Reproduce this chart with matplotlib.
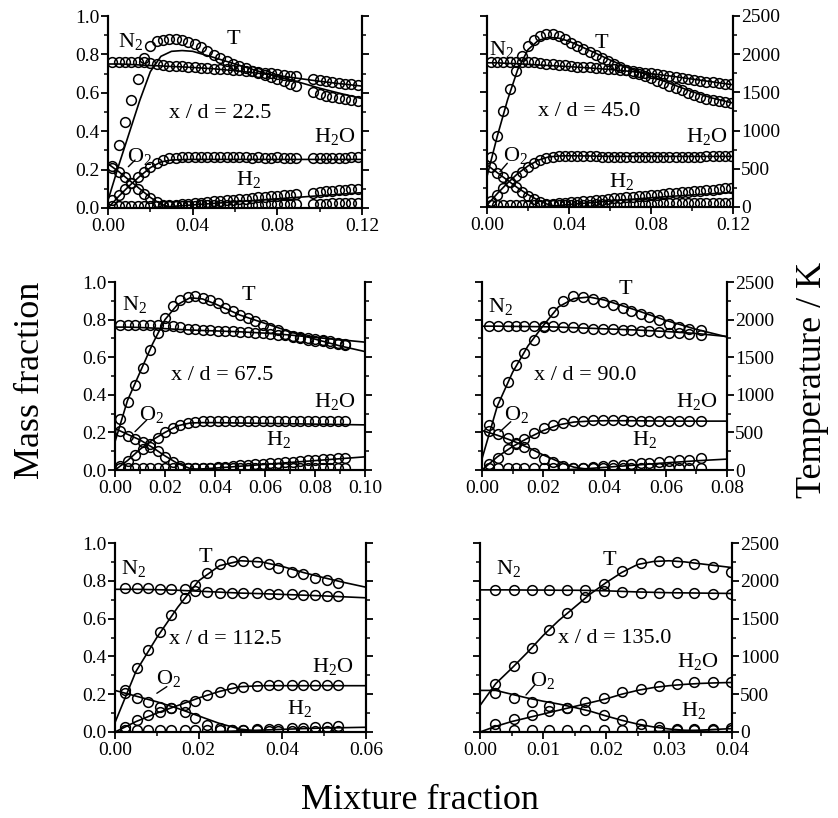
import matplotlib
matplotlib.use('Agg')
import matplotlib.pyplot as plt
from matplotlib.ticker import MultipleLocator, FormatStrFormatter

plt.rcParams['font.family'] = 'Liberation Serif'
plt.rcParams['mathtext.fontset'] = 'custom'
plt.rcParams['mathtext.rm'] = 'Liberation Serif'
plt.rcParams['mathtext.it'] = 'Liberation Serif:italic'

# ---- x/d = 22.5 ----
z1 = [0.002, 0.005, 0.008, 0.011, 0.014, 0.017, 0.020, 0.023, 0.026, 0.029,
      0.032, 0.035, 0.038, 0.041, 0.044, 0.047, 0.050, 0.053, 0.056, 0.059,
      0.062, 0.065, 0.068, 0.071, 0.074, 0.077, 0.080, 0.083, 0.086, 0.089,
      0.097, 0.100, 0.103, 0.106, 0.109, 0.112, 0.115, 0.118]
T1 = [525, 825, 1125, 1400, 1675, 1950, 2110, 2170, 2190, 2200,
      2200, 2190, 2165, 2130, 2090, 2040, 1990, 1950, 1915, 1880,
      1850, 1820, 1790, 1760, 1735, 1710, 1680, 1650, 1620, 1590,
      1510, 1480, 1460, 1445, 1430, 1415, 1400, 1390]
N2_1 = [0.760, 0.762, 0.760, 0.758, 0.760, 0.758, 0.755, 0.750, 0.745, 0.742,
        0.740, 0.738, 0.735, 0.733, 0.730, 0.728, 0.726, 0.724, 0.722, 0.720,
        0.717, 0.714, 0.711, 0.708, 0.705, 0.702, 0.698, 0.694, 0.690, 0.686,
        0.672, 0.667, 0.662, 0.657, 0.652, 0.648, 0.645, 0.643]
O2_1 = [0.220, 0.190, 0.160, 0.130, 0.100, 0.075, 0.050, 0.030, 0.015, 0.010,
        0.012, 0.012, 0.013, 0.013, 0.014, 0.014, 0.015, 0.015, 0.016, 0.016,
        0.017, 0.017, 0.018, 0.018, 0.019, 0.019, 0.020, 0.020, 0.021, 0.021,
        0.022, 0.023, 0.023, 0.024, 0.024, 0.025, 0.025, 0.025]
H2O_1 = [0.040, 0.070, 0.100, 0.130, 0.160, 0.190, 0.215, 0.235, 0.250, 0.258,
         0.262, 0.264, 0.265, 0.266, 0.266, 0.265, 0.266, 0.265, 0.264, 0.265,
         0.264, 0.264, 0.263, 0.264, 0.263, 0.263, 0.264, 0.263, 0.262, 0.263,
         0.262, 0.262, 0.263, 0.262, 0.262, 0.263, 0.264, 0.265]
H2_1 = [0.010, 0.010, 0.010, 0.010, 0.010, 0.010, 0.010, 0.011, 0.012, 0.015,
        0.018, 0.020, 0.022, 0.025, 0.028, 0.031, 0.034, 0.037, 0.040, 0.043,
        0.046, 0.049, 0.052, 0.055, 0.058, 0.061, 0.064, 0.067, 0.070, 0.073,
        0.080, 0.083, 0.086, 0.089, 0.092, 0.095, 0.098, 0.100]
zl1 = [0, 0.005, 0.01, 0.015, 0.02, 0.025, 0.03, 0.035, 0.04, 0.05, 0.06, 0.07, 0.08, 0.09, 0.10, 0.11, 0.12]
T1_line = [100, 550, 975, 1400, 1775, 1975, 2040, 2050, 2040, 1960, 1875, 1790, 1710, 1640, 1560, 1490, 1425]
N2_1_line = [0.750, 0.750, 0.748, 0.745, 0.742, 0.740, 0.737, 0.735, 0.732, 0.725, 0.715, 0.703, 0.690, 0.675, 0.660, 0.647, 0.635]
O2_1_line = [0.230, 0.190, 0.145, 0.100, 0.055, 0.020, 0.002, 0, 0, 0, 0, 0, 0, 0, 0, 0, 0]
H2O_1_line = [0.000, 0.060, 0.115, 0.165, 0.210, 0.240, 0.250, 0.252, 0.253, 0.253, 0.253, 0.253, 0.253, 0.253, 0.253, 0.253, 0.253]
H2_1_line = [0, 0, 0, 0, 0, 0.003, 0.008, 0.012, 0.016, 0.024, 0.032, 0.040, 0.048, 0.056, 0.064, 0.072, 0.080]

# ---- x/d = 45.0 ----
z2 = [0.002, 0.005, 0.008, 0.011, 0.014, 0.017, 0.020, 0.023, 0.026, 0.029,
      0.032, 0.035, 0.038, 0.041, 0.044, 0.047, 0.050, 0.053, 0.056, 0.059,
      0.062, 0.065, 0.068, 0.071, 0.074, 0.077, 0.080, 0.083, 0.086, 0.089,
      0.092, 0.095, 0.098, 0.101, 0.104, 0.107, 0.110, 0.113, 0.116, 0.119]
T2 = [650, 925, 1250, 1550, 1775, 1975, 2110, 2190, 2240, 2265,
      2260, 2240, 2200, 2150, 2110, 2070, 2030, 1990, 1950, 1910,
      1870, 1830, 1790, 1760, 1735, 1710, 1685, 1655, 1625, 1590,
      1555, 1525, 1495, 1460, 1440, 1420, 1400, 1385, 1370, 1360]
N2_2 = [0.760, 0.761, 0.760, 0.759, 0.760, 0.759, 0.758, 0.757, 0.754, 0.750,
        0.747, 0.744, 0.741, 0.738, 0.735, 0.733, 0.731, 0.729, 0.727, 0.724,
        0.721, 0.718, 0.715, 0.711, 0.707, 0.703, 0.699, 0.695, 0.690, 0.685,
        0.680, 0.676, 0.672, 0.667, 0.662, 0.657, 0.652, 0.648, 0.646, 0.645]
O2_2 = [0.210, 0.180, 0.155, 0.130, 0.105, 0.080, 0.060, 0.040, 0.025, 0.015,
        0.010, 0.011, 0.011, 0.012, 0.012, 0.013, 0.013, 0.014, 0.014, 0.015,
        0.015, 0.016, 0.016, 0.017, 0.017, 0.018, 0.018, 0.019, 0.019, 0.020,
        0.020, 0.020, 0.021, 0.021, 0.021, 0.022, 0.022, 0.022, 0.022, 0.022]
H2O_2 = [0.030, 0.065, 0.100, 0.130, 0.160, 0.185, 0.210, 0.230, 0.245, 0.256,
         0.263, 0.267, 0.268, 0.268, 0.267, 0.266, 0.265, 0.265, 0.264, 0.263,
         0.262, 0.262, 0.261, 0.262, 0.262, 0.261, 0.262, 0.262, 0.262, 0.263,
         0.263, 0.263, 0.264, 0.264, 0.264, 0.265, 0.266, 0.267, 0.268, 0.268]
H2_2 = [0.010, 0.010, 0.010, 0.010, 0.010, 0.010, 0.010, 0.010, 0.011, 0.013,
        0.016, 0.019, 0.022, 0.025, 0.028, 0.031, 0.034, 0.036, 0.039, 0.042,
        0.045, 0.048, 0.050, 0.053, 0.056, 0.059, 0.062, 0.065, 0.068, 0.071,
        0.074, 0.077, 0.080, 0.083, 0.086, 0.089, 0.091, 0.094, 0.097, 0.099]
zl2 = [0, 0.005, 0.01, 0.015, 0.02, 0.025, 0.03, 0.035, 0.04, 0.05, 0.06, 0.07, 0.08, 0.09, 0.10, 0.11, 0.12]
T2_line = [400, 925, 1400, 1800, 2060, 2180, 2220, 2210, 2170, 2050, 1925, 1810, 1710, 1610, 1510, 1425, 1360]
N2_2_line = [0.755, 0.755, 0.752, 0.750, 0.747, 0.744, 0.741, 0.738, 0.735, 0.728, 0.720, 0.710, 0.698, 0.685, 0.670, 0.655, 0.640]
O2_2_line = [0.220, 0.180, 0.140, 0.100, 0.065, 0.035, 0.012, 0.002, 0, 0, 0, 0, 0, 0, 0, 0, 0]
H2O_2_line = [0.010, 0.070, 0.125, 0.175, 0.215, 0.245, 0.262, 0.267, 0.268, 0.267, 0.265, 0.265, 0.265, 0.265, 0.265, 0.265, 0.265]
H2_2_line = [0, 0, 0, 0, 0, 0, 0.003, 0.008, 0.013, 0.022, 0.031, 0.040, 0.048, 0.056, 0.063, 0.070, 0.077]

# ---- x/d = 67.5 ----
z3 = [0.002, 0.005, 0.008, 0.011, 0.014, 0.017, 0.020, 0.023, 0.026, 0.029,
      0.032, 0.035, 0.038, 0.041, 0.044, 0.047, 0.050, 0.053, 0.056, 0.059,
      0.062, 0.065, 0.068, 0.071, 0.074, 0.077, 0.080, 0.083, 0.086, 0.089, 0.092]
T3 = [675, 900, 1125, 1350, 1600, 1825, 2025, 2175, 2260, 2300,
      2310, 2290, 2265, 2215, 2155, 2110, 2060, 2015, 1975, 1930,
      1890, 1860, 1810, 1775, 1750, 1725, 1720, 1710, 1695, 1680, 1665]
N2_3 = [0.770, 0.771, 0.770, 0.769, 0.770, 0.769, 0.768, 0.765, 0.758, 0.752,
        0.748, 0.745, 0.743, 0.741, 0.739, 0.737, 0.736, 0.733, 0.730, 0.727,
        0.724, 0.720, 0.716, 0.712, 0.707, 0.702, 0.697, 0.690, 0.684, 0.678, 0.672]
O2_3 = [0.205, 0.180, 0.165, 0.150, 0.125, 0.100, 0.070, 0.040, 0.020, 0.010,
        0.008, 0.008, 0.008, 0.009, 0.009, 0.009, 0.010, 0.010, 0.010, 0.010,
        0.011, 0.011, 0.011, 0.011, 0.012, 0.012, 0.012, 0.012, 0.012, 0.013, 0.013]
H2O_3 = [0.020, 0.050, 0.080, 0.110, 0.140, 0.170, 0.200, 0.225, 0.240, 0.250,
         0.255, 0.258, 0.260, 0.261, 0.262, 0.262, 0.261, 0.262, 0.262, 0.261,
         0.261, 0.262, 0.262, 0.261, 0.260, 0.260, 0.260, 0.259, 0.259, 0.258, 0.258]
H2_3 = [0.008, 0.008, 0.008, 0.008, 0.008, 0.008, 0.008, 0.008, 0.008, 0.008,
        0.009, 0.011, 0.013, 0.016, 0.018, 0.021, 0.024, 0.027, 0.030, 0.033,
        0.036, 0.039, 0.042, 0.045, 0.048, 0.051, 0.054, 0.057, 0.060, 0.063, 0.066]
zl3 = [0, 0.005, 0.01, 0.015, 0.02, 0.025, 0.03, 0.035, 0.04, 0.05, 0.06, 0.07, 0.08, 0.09, 0.10]
T3_line = [375, 925, 1300, 1675, 2000, 2200, 2290, 2275, 2210, 2060, 1950, 1840, 1740, 1650, 1575]
N2_3_line = [0.760, 0.760, 0.758, 0.755, 0.752, 0.748, 0.745, 0.742, 0.740, 0.735, 0.728, 0.718, 0.705, 0.693, 0.680]
O2_3_line = [0.220, 0.190, 0.160, 0.120, 0.075, 0.035, 0.008, 0, 0, 0, 0, 0, 0, 0, 0]
H2O_3_line = [0.000, 0.050, 0.110, 0.160, 0.200, 0.235, 0.250, 0.252, 0.252, 0.250, 0.248, 0.246, 0.244, 0.242, 0.240]
H2_3_line = [0, 0, 0, 0, 0, 0, 0.002, 0.006, 0.010, 0.020, 0.030, 0.040, 0.050, 0.060, 0.070]

# ---- x/d = 90.0 ----
z4 = [0.0024, 0.0051, 0.0084, 0.0111, 0.0138, 0.0171, 0.0204, 0.0231, 0.0263, 0.0296,
      0.0329, 0.0361, 0.0394, 0.0427, 0.0460, 0.0487, 0.0520, 0.0546, 0.0579, 0.0612,
      0.0644, 0.0677, 0.0715]
T4 = [600, 910, 1175, 1400, 1550, 1725, 1900, 2100, 2250, 2320,
      2300, 2280, 2240, 2195, 2150, 2115, 2070, 2040, 1995, 1940,
      1905, 1875, 1860]
N2_4 = [0.768, 0.768, 0.767, 0.768, 0.768, 0.767, 0.768, 0.766, 0.762, 0.758,
        0.755, 0.752, 0.750, 0.748, 0.746, 0.744, 0.741, 0.738, 0.735, 0.731,
        0.727, 0.724, 0.720]
O2_4 = [0.205, 0.190, 0.170, 0.145, 0.120, 0.090, 0.060, 0.040, 0.020, 0.010,
        0.009, 0.009, 0.010, 0.010, 0.010, 0.011, 0.011, 0.011, 0.012, 0.012,
        0.012, 0.012, 0.013]
H2O_4 = [0.030, 0.065, 0.110, 0.140, 0.165, 0.195, 0.222, 0.240, 0.250, 0.258,
         0.262, 0.265, 0.266, 0.265, 0.264, 0.263, 0.262, 0.262, 0.261, 0.260,
         0.260, 0.259, 0.258]
H2_4 = [0.008, 0.008, 0.008, 0.008, 0.008, 0.008, 0.008, 0.008, 0.009, 0.010,
        0.012, 0.016, 0.020, 0.024, 0.028, 0.031, 0.035, 0.038, 0.042, 0.047,
        0.051, 0.055, 0.062]
zl4 = [0, 0.005, 0.01, 0.015, 0.02, 0.025, 0.03, 0.035, 0.04, 0.05, 0.06, 0.07, 0.08]
T4_line = [150, 850, 1300, 1650, 1920, 2170, 2280, 2300, 2260, 2130, 1990, 1870, 1770]
N2_4_line = [0.765, 0.765, 0.764, 0.763, 0.762, 0.760, 0.757, 0.754, 0.751, 0.745, 0.737, 0.726, 0.710]
O2_4_line = [0.210, 0.185, 0.155, 0.120, 0.080, 0.045, 0.015, 0.003, 0, 0, 0, 0, 0]
H2O_4_line = [0.000, 0.070, 0.125, 0.170, 0.210, 0.240, 0.255, 0.260, 0.262, 0.262, 0.260, 0.260, 0.260]
H2_4_line = [0, 0, 0, 0, 0, 0, 0.003, 0.008, 0.014, 0.026, 0.038, 0.049, 0.058]

# ---- x/d = 112.5 ----
z5 = [0.0024, 0.0053, 0.0080, 0.0108, 0.0135, 0.0167, 0.0191, 0.0219, 0.0251, 0.0279,
      0.0307, 0.0339, 0.0367, 0.0390, 0.0422, 0.0450, 0.0478, 0.0506, 0.0534]
T5 = [555, 840, 1085, 1325, 1550, 1770, 1945, 2100, 2220, 2260,
      2260, 2250, 2220, 2165, 2120, 2085, 2040, 2010, 1970]
N2_5 = [0.760, 0.762, 0.760, 0.758, 0.757, 0.755, 0.748, 0.742, 0.738, 0.736,
        0.735, 0.733, 0.732, 0.730, 0.729, 0.727, 0.725, 0.722, 0.720]
O2_5 = [0.205, 0.178, 0.160, 0.134, 0.125, 0.108, 0.076, 0.037, 0.019, 0.012,
        0.010, 0.008, 0.007, 0.007, 0.006, 0.006, 0.006, 0.006, 0.006]
H2O_5 = [0.028, 0.063, 0.090, 0.108, 0.125, 0.143, 0.164, 0.196, 0.213, 0.235,
         0.240, 0.245, 0.247, 0.248, 0.248, 0.248, 0.247, 0.247, 0.247]
H2_5 = [0.008, 0.008, 0.008, 0.008, 0.008, 0.008, 0.008, 0.008, 0.008, 0.010,
        0.012, 0.014, 0.016, 0.018, 0.020, 0.023, 0.026, 0.029, 0.032]
zl5 = [0, 0.005, 0.01, 0.015, 0.02, 0.025, 0.03, 0.035, 0.04, 0.045, 0.05, 0.055, 0.06]
T5_line = [125, 800, 1250, 1650, 2000, 2200, 2265, 2250, 2190, 2110, 2040, 1975, 1915]
N2_5_line = [0.755, 0.755, 0.753, 0.750, 0.745, 0.740, 0.735, 0.732, 0.728, 0.724, 0.720, 0.715, 0.710]
O2_5_line = [0.220, 0.190, 0.160, 0.125, 0.085, 0.045, 0.015, 0.003, 0, 0, 0, 0, 0]
H2O_5_line = [0.000, 0.055, 0.100, 0.140, 0.180, 0.215, 0.240, 0.245, 0.245, 0.245, 0.245, 0.245, 0.245]
H2_5_line = [0, 0, 0, 0, 0, 0.002, 0.006, 0.010, 0.014, 0.018, 0.021, 0.023, 0.025]

# ---- x/d = 135.0 ----
z6 = [0.0024, 0.0054, 0.0083, 0.0110, 0.0138, 0.0167, 0.0197, 0.0225, 0.0255, 0.0284,
      0.0312, 0.0340, 0.0370, 0.0398]
T6 = [630, 870, 1115, 1350, 1570, 1780, 1955, 2125, 2240, 2265, 2255, 2225, 2180, 2110]
N2_6 = [0.752, 0.752, 0.752, 0.750, 0.750, 0.749, 0.745, 0.740, 0.738, 0.735, 0.735, 0.733, 0.732, 0.730]
O2_6 = [0.205, 0.180, 0.160, 0.140, 0.127, 0.115, 0.090, 0.065, 0.040, 0.025, 0.015, 0.012, 0.010, 0.010]
H2O_6 = [0.040, 0.067, 0.090, 0.110, 0.129, 0.160, 0.178, 0.210, 0.230, 0.245, 0.254, 0.262, 0.265, 0.263]
H2_6 = [0.008, 0.008, 0.008, 0.008, 0.008, 0.008, 0.008, 0.008, 0.009, 0.010, 0.012, 0.014, 0.016, 0.020]
zl6 = [0, 0.0025, 0.005, 0.0075, 0.01, 0.0125, 0.015, 0.0175, 0.02, 0.0225, 0.025, 0.0275, 0.03, 0.0325, 0.035, 0.0375, 0.04]
T6_line = [350, 640, 840, 1050, 1275, 1475, 1650, 1825, 1975, 2110, 2215, 2255, 2265, 2250, 2225, 2200, 2175]
N2_6_line = [0.752, 0.752, 0.752, 0.751, 0.751, 0.750, 0.750, 0.749, 0.747, 0.744, 0.741, 0.739, 0.737, 0.736, 0.735, 0.734, 0.733]
O2_6_line = [0.220, 0.220, 0.200, 0.180, 0.163, 0.148, 0.130, 0.110, 0.085, 0.062, 0.042, 0.027, 0.016, 0.009, 0.005, 0.002, 0.000]
H2O_6_line = [0.000, 0.030, 0.055, 0.075, 0.095, 0.115, 0.135, 0.155, 0.175, 0.200, 0.220, 0.235, 0.245, 0.252, 0.257, 0.260, 0.262]
H2_6_line = [0, 0, 0, 0, 0, 0, 0, 0, 0, 0, 0, 0.002, 0.004, 0.007, 0.010, 0.014, 0.018]

stations = ['22.5', '45.0', '67.5', '90.0', '112.5', '135.0']

W, H = 838, 818
fig = plt.figure(figsize=(W / 100, H / 100), dpi=100)


def box(l, t, r, b):
    return [l / W, 1 - b / H, (r - l) / W, (b - t) / H]


# panel frames in pixels, x-range, tick steps, label spots (data coords)
panels = [
    dict(pos=box(108, 16, 362, 208), xmax=0.12, maj=0.04, mnr=0.02, side='left',
         z=z1, T=T1, N2=N2_1, O2=O2_1, H2O=H2O_1, H2=H2_1,
         zl=zl1, Tl=T1_line, N2l=N2_1_line, O2l=O2_1_line, H2Ol=H2O_1_line, H2l=H2_1_line,
         lab=dict(N2=(0.0108, 0.866), T=(0.0592, 0.878), xd=(0.0529, 0.493),
                  H2O=(0.1072, 0.371), O2=(0.0151, 0.267), H2=(0.0663, 0.146),
                  lead=((0.0096, 0.215), (0.0128, 0.25)))),
    dict(pos=box(487, 16, 733, 207), xmax=0.12, maj=0.04, mnr=0.02, side='right',
         z=z2, T=T2, N2=N2_2, O2=O2_2, H2O=H2O_2, H2=H2_2,
         zl=zl2, Tl=T2_line, N2l=N2_2_line, O2l=O2_2_line, H2Ol=H2O_2_line, H2l=H2_2_line,
         lab=dict(N2=(0.0072, 0.822), T=(0.056, 0.857), xd=(0.0498, 0.499),
                  H2O=(0.1072, 0.368), O2=(0.0137, 0.272), H2=(0.0657, 0.132),
                  lead=((0.0063, 0.185), (0.0099, 0.229)))),
    dict(pos=box(115, 282, 365, 470), xmax=0.10, maj=0.02, mnr=0.01, side='left',
         z=z3, T=T3, N2=N2_3, O2=O2_3, H2O=H2O_3, H2=H2_3,
         zl=zl3, Tl=T3_line, N2l=N2_3_line, O2l=O2_3_line, H2Ol=H2O_3_line, H2l=H2_3_line,
         lab=dict(N2=(0.008, 0.878), T=(0.0533, 0.926), xd=(0.0427, 0.505),
                  H2O=(0.088, 0.363), O2=(0.0147, 0.293), H2=(0.0653, 0.16),
                  lead=((0.008, 0.204), (0.0127, 0.266)))),
    dict(pos=box(482, 282, 727, 470), xmax=0.08, maj=0.02, mnr=0.01, side='right',
         z=z4, T=T4, N2=N2_4, O2=O2_4, H2O=H2O_4, H2=H2_4,
         zl=zl4, Tl=T4_line, N2l=N2_4_line, O2l=O2_4_line, H2Ol=H2O_4_line, H2l=H2_4_line,
         lab=dict(N2=(0.0059, 0.869), T=(0.0467, 0.96), xd=(0.0336, 0.505),
                  H2O=(0.0703, 0.363), O2=(0.0113, 0.293), H2=(0.0532, 0.16),
                  lead=((0.0059, 0.204), (0.0094, 0.257)))),
    dict(pos=box(115, 543, 366, 732), xmax=0.06, maj=0.02, mnr=0.01, side='left',
         z=z5, T=T5, N2=N2_5, O2=O2_5, H2O=H2O_5, H2=H2_5,
         zl=zl5, Tl=T5_line, N2l=N2_5_line, O2l=O2_5_line, H2Ol=H2O_5_line, H2l=H2_5_line,
         lab=dict(N2=(0.0044, 0.866), T=(0.0215, 0.924), xd=(0.0263, 0.49),
                  H2O=(0.052, 0.345), O2=(0.0127, 0.284), H2=(0.0442, 0.125),
                  lead=((0.010, 0.205), (0.0124, 0.24)))),
    dict(pos=box(480, 543, 732, 732), xmax=0.04, maj=0.01, mnr=0.005, side='right',
         z=z6, T=T6, N2=N2_6, O2=O2_6, H2O=H2O_6, H2=H2_6,
         zl=zl6, Tl=T6_line, N2l=N2_6_line, O2l=O2_6_line, H2Ol=H2O_6_line, H2l=H2_6_line,
         lab=dict(N2=(0.0045, 0.866), T=(0.0206, 0.91), xd=(0.0213, 0.496),
                  H2O=(0.0345, 0.372), O2=(0.010, 0.275), H2=(0.0339, 0.116),
                  lead=((0.0073, 0.196), (0.0087, 0.249)))),
]

mk = dict(marker='o', ms=7, mfc='none', mec='k', mew=1.1, ls='none')
names = {'N2': r'$\mathrm{N_2}$', 'O2': r'$\mathrm{O_2}$',
         'H2O': r'$\mathrm{H_2O}$', 'H2': r'$\mathrm{H_2}$', 'T': 'T'}

for p, st in zip(panels, stations):
    ax = fig.add_axes(p['pos'])
    axT = ax.twinx()
    for sp in ['N2', 'O2', 'H2O', 'H2']:
        ax.plot(p['zl'], p[sp + 'l'], 'k-', lw=1.2)
        ax.plot(p['z'], p[sp], **mk)
    axT.plot(p['zl'], p['Tl'], 'k-', lw=1.2)
    axT.plot(p['z'], p['T'], **mk)

    ax.set_xlim(0, p['xmax'])
    ax.set_ylim(0, 1.0)
    axT.set_ylim(0, 2500)
    ax.xaxis.set_major_locator(MultipleLocator(p['maj']))
    ax.xaxis.set_minor_locator(MultipleLocator(p['mnr']))
    ax.xaxis.set_major_formatter(FormatStrFormatter('%.2f'))
    ax.yaxis.set_major_locator(MultipleLocator(0.2))
    ax.yaxis.set_minor_locator(MultipleLocator(0.1))
    ax.yaxis.set_major_formatter(FormatStrFormatter('%.1f'))
    axT.yaxis.set_major_locator(MultipleLocator(500))
    axT.yaxis.set_minor_locator(MultipleLocator(250))

    for a in (ax, axT):
        a.spines['top'].set_visible(False)
        for s in ('left', 'right', 'bottom'):
            a.spines[s].set_linewidth(1.5)
        a.tick_params(which='major', direction='out', length=5, width=1.3, labelsize=14, pad=1)
        a.tick_params(which='minor', direction='out', length=3, width=1.1)
    ax.tick_params(axis='x', pad=2)
    if p['side'] == 'left':
        axT.tick_params(labelright=False)
    else:
        ax.tick_params(labelleft=False)

    lab = p['lab']
    for key in ['N2', 'T', 'H2O', 'O2', 'H2']:
        ax.text(*lab[key], names[key], fontsize=16, ha='center', va='center')
    ax.text(*lab['xd'], 'x / d = ' + st, fontsize=16, ha='center', va='center')
    ax.annotate('', xy=lab['lead'][0], xytext=lab['lead'][1],
                arrowprops=dict(arrowstyle='-', lw=1.0, color='k',
                                shrinkA=0, shrinkB=0))

fig.text(0.036, 0.535, 'Mass fraction', rotation=90, fontsize=26, ha='center', va='center')
fig.text(0.969, 0.535, 'Temperature / K', rotation=90, fontsize=26, ha='center', va='center')
fig.text(0.501, 0.022, 'Mixture fraction', fontsize=26, ha='center', va='center')

fig.savefig('out.png', dpi=100)
